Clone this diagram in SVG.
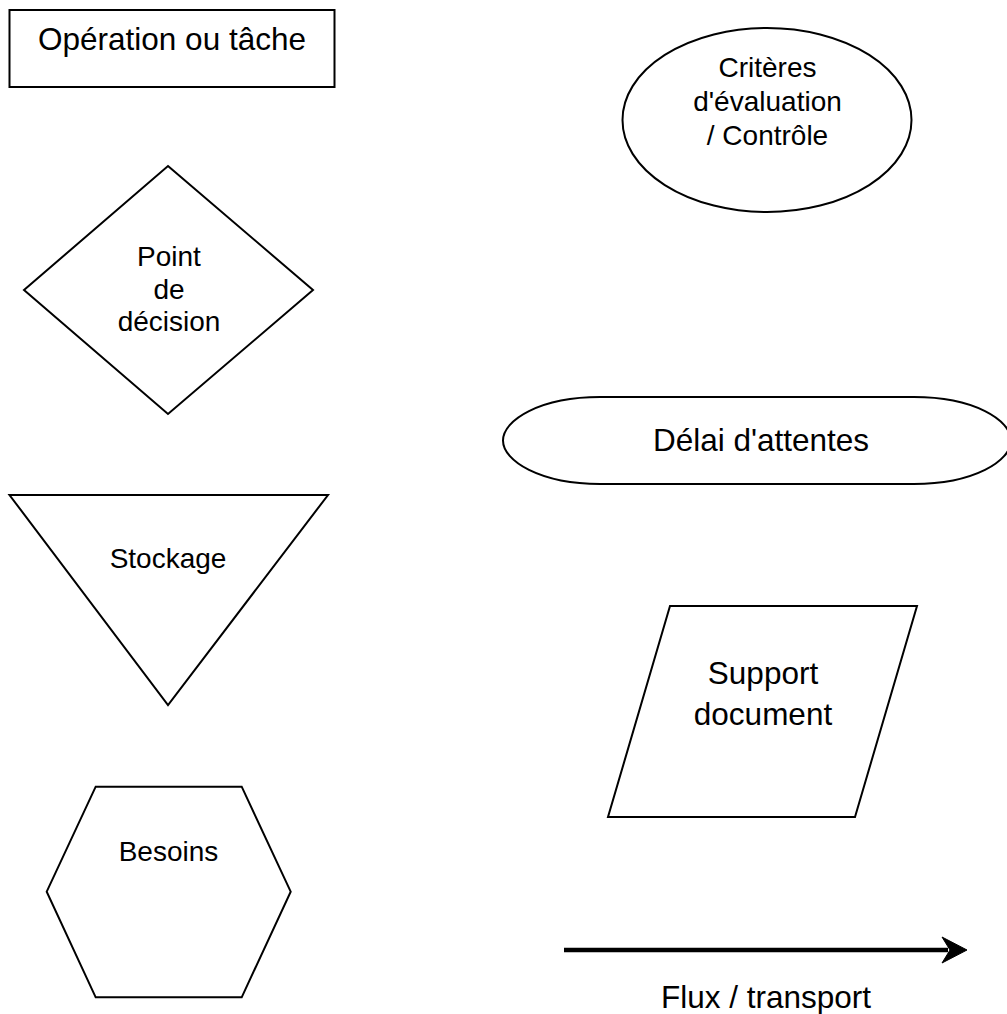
<svg xmlns="http://www.w3.org/2000/svg" width="1007" height="1014" viewBox="0 0 1007 1014">
<style>
.s{fill:#fff;stroke:#000;stroke-width:2;stroke-linejoin:miter}
.t{font-family:"Liberation Sans",Arial,sans-serif;fill:#000;text-anchor:middle}
.a{font-size:28px}
.b{font-size:31.5px}
</style>
<rect width="1007" height="1014" fill="#fff"/>
<g id="operation">
<rect class="s" x="9.5" y="10" width="325" height="77"/>
<text class="t b" x="172" y="49.5">Opération ou tâche</text>
</g>
<g id="controle">
<ellipse class="s" cx="767" cy="120" rx="144.5" ry="92"/>
<text class="t a" x="767.5" y="77">Critères</text>
<text class="t a" x="767.5" y="111">d'évaluation</text>
<text class="t a" x="767.5" y="145">/ Contrôle</text>
</g>
<g id="decision">
<polygon class="s" points="168,166 313,290 168,414 24,290"/>
<text class="t a" x="169" y="266">Point</text>
<text class="t a" x="169" y="298.5">de</text>
<text class="t a" x="169" y="331">décision</text>
</g>
<g id="delai">
<path class="s" d="M600,397 L914,397 C974,397 1011,420 1011,440.5 C1011,461 974,484 914,484 L600,484 C540,484 503,461 503,440.5 C503,420 540,397 600,397 Z"/>
<text class="t b" x="761" y="451">Délai d'attentes</text>
</g>
<g id="stockage">
<polygon class="s" points="9.5,495 328,495 168,705"/>
<text class="t a" x="168" y="568">Stockage</text>
</g>
<g id="support">
<polygon class="s" points="670,606 917,606 855,817 608,817"/>
<text class="t b" x="763" y="684">Support</text>
<text class="t b" x="763" y="725">document</text>
</g>
<g id="besoins">
<polygon class="s" points="95.7,786.7 241.7,786.7 290.7,891.7 241.7,997.3 95.7,997.3 46.7,891.7"/>
<text class="t a" x="168.5" y="861">Besoins</text>
</g>
<g id="connectors">
<line x1="564" y1="950" x2="948" y2="950" stroke="#000" stroke-width="4.5"/>
<polygon points="967,950 942,937 950,950 942,963" fill="#000" stroke="#000" stroke-width="1"/>
</g>
<text class="t b" x="766" y="1008">Flux / transport</text>
</svg>
